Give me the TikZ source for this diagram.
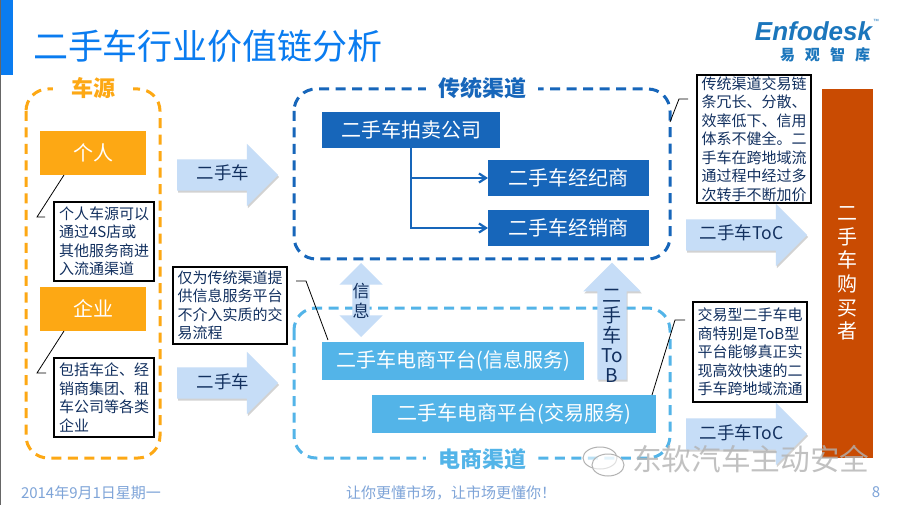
\documentclass[tikz,border=0pt]{standalone}
\usepackage{xcolor}
\usepackage{fontspec}
\setmainfont{Noto Sans CJK SC}
\newfontfamily\logofont{Liberation Sans}
\usetikzlibrary{positioning,shapes.arrows,arrows.meta,shadows}
\definecolor{titleblue}{HTML}{0A7CF0}
\definecolor{srcorange}{HTML}{FDA814}
\definecolor{darkblue}{HTML}{1766BA}
\definecolor{lightblue}{HTML}{53B4E8}
\definecolor{arrowblue}{HTML}{C6DDF7}
\definecolor{buyerred}{HTML}{C94B02}
\definecolor{inkblue}{HTML}{12305F}
\definecolor{footblue}{HTML}{7EA4D8}
\definecolor{logoblue}{HTML}{1B76BC}
\begin{document}
\begin{tikzpicture}[x=1pt, y=-1pt, every node/.style={inner sep=0pt, outer sep=0pt},
 titletext/.style={font=\fontsize{35}{35}\selectfont, text=titleblue, anchor=west},
 groupbox/.style={line width=3pt, rounded corners=22pt, dash pattern=on 10pt off 6.5pt},
 grouplabel/.style={font=\fontsize{22}{22}\selectfont\bfseries, fill=white, inner xsep=12pt, inner ysep=1pt},
 filledbox/.style={text=white, font=\fontsize{20}{20}\selectfont, align=center},
 srcbox/.style={filledbox, fill=srcorange, minimum width=106pt, minimum height=44pt},
 darkbox/.style={filledbox, fill=darkblue, minimum width=161pt, minimum height=36pt},
 lightbox/.style={filledbox, fill=lightblue, minimum height=38pt},
 notebox/.style={draw=black, line width=1.3pt, fill=white, text=inkblue, align=left, font=\fontsize{15}{18.5}\selectfont},
 softshadow/.style={drop shadow={shadow xshift=1pt, shadow yshift=-2pt, fill=black!35, opacity=.5}},
 flowarrow/.style={single arrow, single arrow head extend=15.5pt, single arrow head indent=0pt, fill=arrowblue, text=inkblue, font=\fontsize{17.5}{18}\selectfont, text height=20.5pt, text depth=10.5pt, softshadow},
 callout/.style={draw=black, line width=.8pt},
 flowline/.style={draw=darkblue, line width=2.2pt, -{Straight Barb[length=7pt, width=9pt]}},
 foottext/.style={text=footblue, font=\fontsize{15}{15}\selectfont},
 marktext/.style={text=black!30, font=\fontsize{29.7}{30}\selectfont, opacity=.8},
 markicon/.style={draw=black!30, line width=1pt, fill=white, fill opacity=.6}]
\useasboundingbox (0,0) rectangle (900,505);
\fill[white] (0,0) rectangle (900,505);
\fill[black!60] (0,0) rectangle (1,505);
\fill[titleblue] (1,0) rectangle (13,75);
\node[titletext] (title) at (33,46) {二手车行业价值链分析};
\node[font=\fontsize{26}{26}\logofont\itshape\bfseries, text=logoblue] (logo) at (813.5,31) {Enfodesk};
\node[font=\fontsize{6}{6}\logofont, text=logoblue, right=1pt of logo.north east] (logotm) {™};
\node[font=\fontsize{15}{15}\selectfont\bfseries, text=logoblue] (logocn) at (825,55) {易\hspace{10pt}观\hspace{10pt}智\hspace{10pt}库};
\draw[groupbox, draw=srcorange] (26,89) rectangle (160,458);
\draw[groupbox, draw=darkblue] (294,89) rectangle (670,259);
\draw[groupbox, draw=lightblue] (294,308) rectangle (670,458);
\node[grouplabel, inner xsep=18pt, text=srcorange] (srclabel) at (93,88) {车源};
\node[grouplabel, text=darkblue] (tradlabel) at (482,88) {传统渠道};
\node[grouplabel, text=lightblue] (ecomlabel) at (482,459) {电商渠道};
\node[srcbox] (person) at (93,153) {个人};
\node[notebox, minimum width=100pt, minimum height=79pt, below right=27pt and -92pt of person] (personnote) {个人车源可以\\通过4S店或\\其他服务商进\\入流通渠道};
\node[srcbox, below left=6pt and -92pt of personnote] (company) {企业};
\node[notebox, minimum width=100pt, minimum height=79pt, below right=27pt and -92pt of company] (companynote) {包括车企、经\\销商集团、租\\车公司等各类\\企业};
\coordinate (personbend) at (37,217); \coordinate (personend) at (45,217); \coordinate (personstart) at (64,175);
\coordinate (companybend) at (37,373); \coordinate (companyend) at (46,373); \coordinate (companystart) at (64,331);
\draw[callout] (personstart) -- (personbend) -- (personend); \draw[callout] (companystart) -- (companybend) -- (companyend);
\node[flowarrow, minimum height=101pt, anchor=tip] (usedcar1) at (278,175) {\hspace{7pt}二手车};
\node[flowarrow, minimum height=101pt, anchor=tip] (usedcar2) at (278,383) {\hspace{7pt}二手车};
\node[darkbox, minimum width=178pt] (auction) at (411,130) {二手车拍卖公司};
\node[darkbox] (broker) at (568.5,178) {二手车经纪商};
\node[darkbox, below=14pt of broker] (dealer) {二手车经销商};
\coordinate (branch) at (411,178); \coordinate (corner) at (411,228);
\draw[flowline] (branch) -- (broker); \draw[flowline] (auction.south -| corner) -- (corner) -- (dealer);
\node[double arrow, double arrow head extend=13pt, double arrow head indent=0pt, shape border rotate=90, fill=arrowblue, minimum height=74pt, text width=17pt, text height=0pt, text depth=0pt] (infoarrow) at (361,300) {};
\node[text=inkblue, font=\fontsize{17}{20}\selectfont, align=center] (infotext) at (361,301) {信\\息};
\node[lightbox, minimum width=262pt] (infoplat) at (453,361) {二手车电商平台(信息服务)};
\node[lightbox, minimum width=284pt] (tradeplat) at (514,414) {二手车电商平台(交易服务)};
\node[notebox, minimum width=114pt, minimum height=77pt] (infonote) at (230,305.5) {仅为传统渠道提\\供信息服务平台\\不介入实质的交\\易流程};
\coordinate (infobend) at (306,281); \coordinate (infoend) at (296,281); \coordinate (infostart) at (328,340);
\draw[callout] (infoend) -- (infobend) -- (infostart);
\node[single arrow, single arrow head extend=14pt, single arrow head indent=0pt, shape border rotate=90, fill=arrowblue, minimum height=117pt, text width=29pt, text height=0pt, text depth=0pt, softshadow] (tobarrow) at (612,328.5) {};
\node[text=inkblue, font=\fontsize{19}{20}\selectfont, align=center] (tobtext) at (612,336) {二\\手\\车\\To\\B};
\node[notebox, minimum width=114pt, minimum height=100pt] (tradenote) at (750,352) {交易型二手车电\\商特别是ToB型\\平台能够真正实\\现高效快速的二\\手车跨地域流通};
\node[notebox, minimum width=114pt, minimum height=128pt] (tradnote) at (754,139) {传统渠道交易链\\条冗长、分散、\\效率低下、信用\\体系不健全。二\\手车在跨地域流\\通过程中经过多\\次转手不断加价};
\coordinate (tradebend) at (675,320); \coordinate (tradeend) at (685,320); \coordinate (tradestart) at (652,395);
\coordinate (tradbend) at (679,99); \coordinate (tradend) at (688,99); \coordinate (tradstart) at (670,122);
\draw[callout] (tradestart) -- (tradebend) -- (tradeend); \draw[callout] (tradstart) -- (tradbend) -- (tradend);
\node[flowarrow, minimum height=121pt, anchor=tip] (toc1) at (807,235) {\hspace{6pt}二手车ToC};
\node[flowarrow, minimum height=121pt, anchor=tip] (toc2) at (807,434) {\hspace{6pt}二手车ToC};
\node[fill=buyerred, minimum width=51pt, minimum height=369pt, text=white, font=\fontsize{20}{23.6}\selectfont, align=center] (buyer) at (847.5,273.5) {二\\手\\车\\购\\买\\者};
\node[foottext, anchor=west] (date) at (21,493) {2014年9月1日星期一};
\node[foottext, anchor=west] (slogan) at (346,493) {让你更懂市场，让市场更懂你！};
\node[foottext] (pagenum) at (876,492) {8};
\draw[markicon] (600,458) ellipse (17pt and 11pt); \draw[markicon] (608,465) ellipse (16pt and 11pt);
\node[marktext, anchor=west] (wechatmark) at (632,459) {东软汽车主动安全};
\end{tikzpicture}
\end{document}
